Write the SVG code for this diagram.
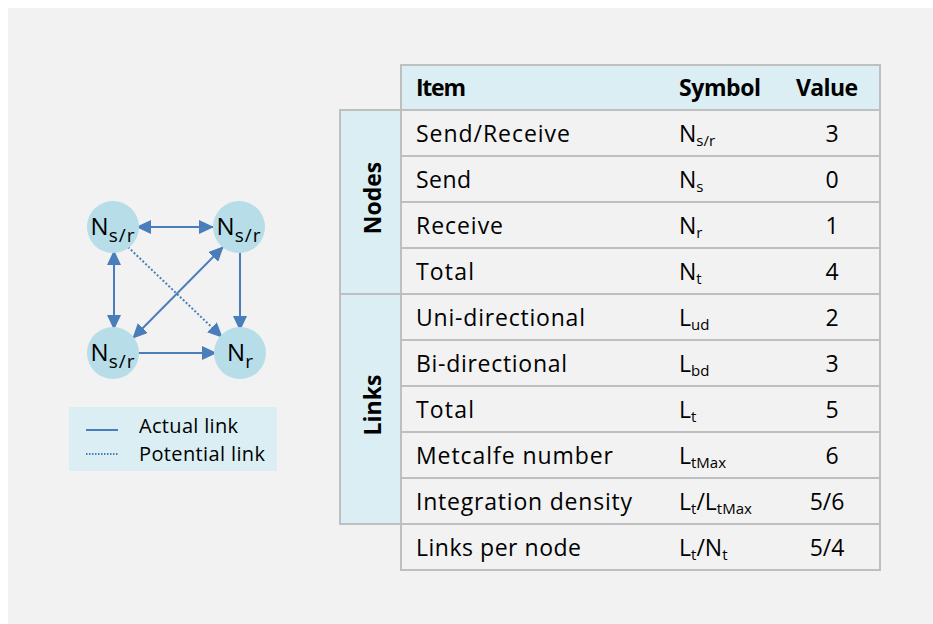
<svg xmlns="http://www.w3.org/2000/svg" width="933" height="624" viewBox="0 0 933 624">
<style>
.t{font-family:"Open Sans","Liberation Sans",sans-serif;font-size:23px;fill:#000}
.b{font-weight:bold}
.s{font-size:15px}
.n{font-family:"Open Sans","Liberation Sans",sans-serif;font-size:24px;fill:#000}
.ns{font-size:19px}
.lg{font-family:"Open Sans","Liberation Sans",sans-serif;font-size:20px;fill:#000}
.hdr{fill:#daeef3;stroke:#bfbfbf;stroke-width:2}
.row{fill:#f2f2f2;stroke:#bfbfbf;stroke-width:2}
.node{fill:#b7dde8}
.lk{stroke:#4a7ebb;stroke-width:2;fill:none}
.dot{stroke:#4a7ebb;stroke-width:2;stroke-dasharray:2 2;fill:none}
</style>
<defs>
<marker id="ah" markerUnits="userSpaceOnUse" markerWidth="15" markerHeight="14" viewBox="0 0 15 14" refX="14" refY="7" orient="auto-start-reverse">
<path d="M0,0 L15,7 L0,14 z" fill="#4a7ebb"/>
</marker>
</defs>
<rect x="0" y="0" width="933" height="624" fill="#ffffff"/>
<rect x="8" y="8" width="925" height="616" fill="#f2f2f2"/>

<g id="connectors">
<line class="lk" x1="137" y1="227" x2="213" y2="227" marker-start="url(#ah)" marker-end="url(#ah)"/>
<line class="lk" x1="114" y1="251" x2="114" y2="329" marker-start="url(#ah)" marker-end="url(#ah)"/>
<line class="lk" x1="240" y1="252" x2="240" y2="330" marker-end="url(#ah)"/>
<line class="lk" x1="137" y1="353" x2="216" y2="353" marker-end="url(#ah)"/>
<line class="lk" x1="223" y1="247" x2="133" y2="338" marker-start="url(#ah)" marker-end="url(#ah)"/>
<line class="dot" x1="128" y1="247" x2="222" y2="337" marker-end="url(#ah)"/>
</g>

<g id="node-tl">
<circle class="node" cx="113" cy="227" r="26"/>
<text class="n" x="113" y="235" text-anchor="middle">N<tspan class="ns" dy="7" letter-spacing="1">s/r</tspan></text>
</g>
<g id="node-tr">
<circle class="node" cx="239" cy="227" r="26"/>
<text class="n" x="239" y="235" text-anchor="middle">N<tspan class="ns" dy="7" letter-spacing="1">s/r</tspan></text>
</g>
<g id="node-bl">
<circle class="node" cx="113" cy="353" r="26"/>
<text class="n" x="113" y="361" text-anchor="middle">N<tspan class="ns" dy="7" letter-spacing="1">s/r</tspan></text>
</g>
<g id="node-br">
<circle class="node" cx="240" cy="353" r="26"/>
<text class="n" x="240" y="361" text-anchor="middle">N<tspan class="ns" dy="7">r</tspan></text>
</g>

<g id="legend">
<rect x="69" y="407" width="208" height="64" fill="#daeef3"/>
<line class="lk" x1="86" y1="430" x2="118" y2="430"/>
<line x1="86" y1="454" x2="118" y2="454" stroke="#4a7ebb" stroke-width="2" stroke-dasharray="1.5 1.5"/>
<text class="lg" x="139" y="433" textLength="99">Actual link</text>
<text class="lg" x="139" y="461" textLength="126">Potential link</text>
</g>

<g id="table">
<rect class="hdr" x="401" y="65" width="479" height="45"/>
<rect class="hdr" x="340" y="110" width="61" height="184"/>
<rect class="hdr" x="340" y="294" width="61" height="230"/>
<rect class="row" x="401" y="110" width="479" height="46"/>
<rect class="row" x="401" y="156" width="479" height="46"/>
<rect class="row" x="401" y="202" width="479" height="46"/>
<rect class="row" x="401" y="248" width="479" height="46"/>
<rect class="row" x="401" y="294" width="479" height="46"/>
<rect class="row" x="401" y="340" width="479" height="46"/>
<rect class="row" x="401" y="386" width="479" height="46"/>
<rect class="row" x="401" y="432" width="479" height="46"/>
<rect class="row" x="401" y="478" width="479" height="46"/>
<rect class="row" x="401" y="524" width="479" height="46"/>

<text class="t b" x="416" y="96" textLength="50">Item</text>
<text class="t b" x="679" y="96" textLength="82">Symbol</text>
<text class="t b" x="796" y="96" textLength="62">Value</text>

<text class="t b" transform="translate(381,198) rotate(-90)" text-anchor="middle">Nodes</text>
<text class="t b" transform="translate(381,405) rotate(-90)" text-anchor="middle">Links</text>

<text class="t" x="416" y="142" textLength="154">Send/Receive</text>
<text class="t" x="416" y="188" textLength="55">Send</text>
<text class="t" x="416" y="234" textLength="87">Receive</text>
<text class="t" x="416" y="280" textLength="58">Total</text>
<text class="t" x="416" y="326" textLength="169">Uni-directional</text>
<text class="t" x="416" y="372" textLength="151">Bi-directional</text>
<text class="t" x="416" y="418" textLength="58">Total</text>
<text class="t" x="416" y="464" textLength="197">Metcalfe number</text>
<text class="t" x="416" y="510" textLength="216">Integration density</text>
<text class="t" x="416" y="556" textLength="165">Links per node</text>

<text class="t" x="679" y="142">N<tspan class="s" dy="4">s/r</tspan></text>
<text class="t" x="679" y="188">N<tspan class="s" dy="4">s</tspan></text>
<text class="t" x="679" y="234">N<tspan class="s" dy="4">r</tspan></text>
<text class="t" x="679" y="280">N<tspan class="s" dy="4">t</tspan></text>
<text class="t" x="679" y="326">L<tspan class="s" dy="4">ud</tspan></text>
<text class="t" x="679" y="372">L<tspan class="s" dy="4">bd</tspan></text>
<text class="t" x="679" y="418">L<tspan class="s" dy="4">t</tspan></text>
<text class="t" x="679" y="464">L<tspan class="s" dy="4">tMax</tspan></text>
<text class="t" x="679" y="510">L<tspan class="s" dy="4">t</tspan><tspan dy="-4">/L</tspan><tspan class="s" dy="4">tMax</tspan></text>
<text class="t" x="679" y="556">L<tspan class="s" dy="4">t</tspan><tspan dy="-4">/N</tspan><tspan class="s" dy="4">t</tspan></text>

<text class="t" x="832" y="142" text-anchor="middle">3</text>
<text class="t" x="832" y="188" text-anchor="middle">0</text>
<text class="t" x="832" y="234" text-anchor="middle">1</text>
<text class="t" x="832" y="280" text-anchor="middle">4</text>
<text class="t" x="832" y="326" text-anchor="middle">2</text>
<text class="t" x="832" y="372" text-anchor="middle">3</text>
<text class="t" x="832" y="418" text-anchor="middle">5</text>
<text class="t" x="832" y="464" text-anchor="middle">6</text>
<text class="t" x="827" y="510" text-anchor="middle">5/6</text>
<text class="t" x="827" y="556" text-anchor="middle">5/4</text>
</g>
</svg>
